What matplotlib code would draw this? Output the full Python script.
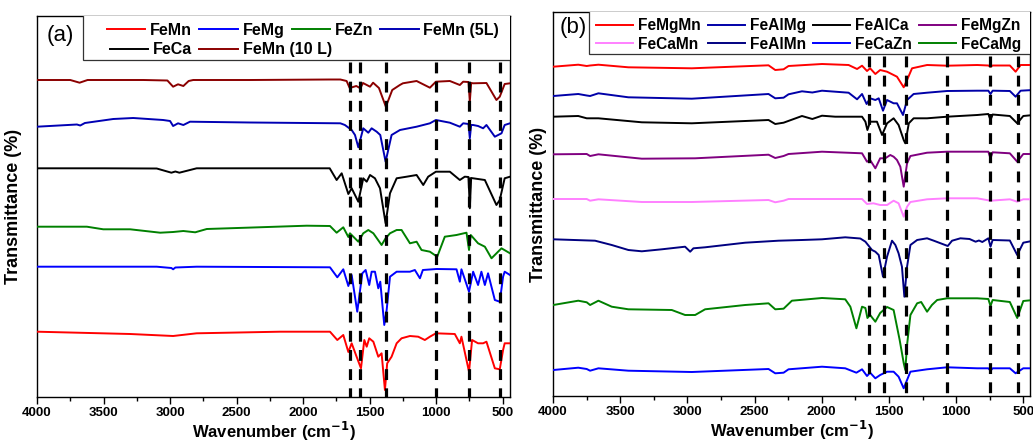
import matplotlib
matplotlib.use("Agg")
import matplotlib.pyplot as plt
from matplotlib.patches import Rectangle

plt.rcParams['font.family'] = ['Liberation Sans', 'DejaVu Sans']

# ---------------- panel (a) ----------------
# spectra: wavenumber (cm-1) and transmittance (arb. units, stacked)
a_FeMn10_wn = [4000, 3750, 3680, 3620, 3200, 3020, 2977, 2940, 2900, 2860, 2826, 2400, 1800, 1720, 1673, 1650,
               1600, 1570, 1550, 1497, 1474, 1430, 1378, 1330, 1273, 1250, 1147, 1047, 1002, 897, 822, 797,
               757, 747, 737, 722, 622, 547, 522, 485, 445]
a_FeMn10_t = [320, 320, 317.3, 320, 320, 319.5, 313.3, 315.7, 314, 319, 320, 320, 320.5, 320.5, 319, 312,
              314, 311.7, 317, 313.3, 317.3, 312, 293.3, 310, 315, 316.7, 319, 312.3, 318.3, 319, 315, 318.3,
              318, 298.3, 317, 316.7, 317, 300, 303.3, 316, 316.7]

a_FeMn5_wn = [4000, 3700, 3675, 3640, 3427, 3277, 3052, 3000, 2977, 2940, 2900, 2850, 2400, 1720, 1686, 1635,
              1610, 1585, 1548, 1510, 1485, 1447, 1420, 1380, 1335, 1272, 1147, 1047, 1002, 897, 822, 797,
              757, 747, 737, 722, 685, 647, 622, 559, 509, 485, 445]
a_FeMn5_t = [273.3, 275.5, 274.5, 277, 281, 282, 280, 279, 274, 276.7, 275, 278.3, 277.5, 276.7, 275, 270,
             265, 252.7, 271.7, 267.3, 271.7, 268.3, 265, 238.3, 265, 270, 273.3, 276.7, 280, 277.3, 273.3, 276.7,
             276, 261.7, 275, 275, 274, 271.7, 275, 263.3, 266.7, 275, 276.7]

a_FeCa_wn = [4000, 3500, 3100, 2990, 2960, 2930, 2800, 1800, 1748, 1710, 1660, 1635, 1585, 1548, 1522, 1497,
             1460, 1422, 1380, 1347, 1297, 1222, 1147, 1097, 1060, 1002, 897, 822, 785, 757, 747, 737, 722,
             634, 547, 522, 485, 445]
a_FeCa_t = [231.7, 231.7, 231.5, 227.3, 228.5, 227.3, 231.7, 231.7, 220, 226.7, 206, 211.7, 198.3, 221.7, 218.3, 225,
            221.7, 211.7, 176.7, 206.7, 221.7, 223.3, 225, 215, 223.3, 228.3, 228.3, 220, 223.3, 223, 191.7, 222, 221.7,
            220, 195, 200, 221.7, 223.3]

a_FeZn_wn = [4000, 3625, 3502, 3300, 3074, 2977, 2900, 2811, 2724, 2424, 1973, 1798, 1748, 1698, 1660, 1648,
             1585, 1548, 1510, 1472, 1410, 1380, 1347, 1297, 1260, 1197, 1147, 1110, 1047, 992, 935, 847, 772,
             753, 740, 685, 634, 584, 509, 445]
a_FeZn_t = [173.3, 173.3, 170.7, 170.7, 167.3, 168, 169, 167.7, 171, 172.3, 174.3, 174, 167.3, 172.7, 163, 166.7,
            158.3, 166.7, 170, 166.7, 155, 161.7, 166.7, 170, 170, 156.7, 158.3, 150, 148.3, 143.3, 163.3, 165, 167.3,
            150, 165, 156.7, 153.3, 141.7, 151.7, 146.7]

a_FeMg_wn = [4000, 3100, 2990, 2977, 2960, 2800, 1798, 1743, 1698, 1660, 1635, 1593, 1555, 1530, 1503, 1485,
             1460, 1435, 1420, 1390, 1372, 1347, 1297, 1197, 1160, 1122, 1100, 997, 847, 822, 810, 753, 722,
             685, 660, 634, 610, 559, 522, 497, 485, 445]
a_FeMg_t = [133.3, 133.3, 132, 130.7, 132.5, 133.3, 132.7, 122.7, 130.7, 114, 125, 88.3, 126.7, 130, 115, 128.3,
            128.3, 111.7, 118.3, 75, 90, 123.3, 128.3, 128.3, 130, 121.7, 130, 131, 130.7, 118.3, 130.7, 108.3, 128.3,
            115, 128.3, 115, 126.7, 100, 98.3, 123.3, 128.3, 125]

a_FeMn_wn = [4000, 3300, 2977, 2800, 2173, 1798, 1743, 1698, 1660, 1635, 1598, 1565, 1540, 1522, 1503, 1472,
             1435, 1410, 1385, 1368, 1335, 1297, 1260, 1197, 1135, 1085, 1047, 1002, 860, 822, 810, 753, 730,
             685, 647, 622, 559, 522, 497, 485, 445]
a_FeMn_t = [68.3, 66, 64, 66.7, 68.3, 68.3, 60, 65, 48, 56.7, 43.3, 31.7, 60, 53.3, 61.7, 58.3,
            43.3, 46.7, 10, 36.7, 43.3, 56.7, 61.7, 64, 63.3, 60, 63.3, 66.7, 66, 56.7, 63.3, 28.3, 60,
            56.7, 56.7, 58.3, 31.7, 30.7, 50, 56.7, 56.7]

a_labels = ['FeMn', 'FeMg', 'FeZn', 'FeMn (5L)', 'FeCa', 'FeMn (10 L)']
a_colors = ['#ff0000', '#0000ff', '#008000', '#0000b4', '#000000', '#8b0000']
a_peaks = [1650, 1570, 1380, 1000, 750, 520]

# ---------------- panel (b) ----------------
b_FeMgMn = [(3998, 333.3), (3812, 335.3), (3749, 334), (3724, 334.5), (3662, 335.3), (3439, 332.7), (2967, 331.7),
            (2396, 334.7), (2346, 330), (2284, 330.7), (2247, 334), (1998, 336), (1800, 335), (1737, 331),
            (1700, 334.3), (1663, 329), (1640, 331.7), (1601, 326), (1565, 330), (1514, 328.3), (1440, 323.3),
            (1390, 312.7), (1365, 320), (1328, 331.7), (1216, 335), (1067, 334.3), (843, 335), (760, 334.5),
            (744, 333.3), (728, 334.5), (600, 334.5), (557, 328.3), (520, 335), (424, 335)]
b_FeAlMg = [(3998, 304), (3812, 306), (3749, 304.5), (3724, 304), (3662, 306.7), (3439, 302.7), (2967, 301.3),
            (2396, 306), (2346, 301.7), (2284, 302.3), (2247, 305.7), (2147, 308.7), (2070, 307.5), (1998, 309.3),
            (1800, 307.3), (1737, 300.7), (1700, 306), (1666, 296), (1640, 301.7), (1601, 300), (1576, 301.7),
            (1544, 289.3), (1514, 300), (1465, 296.7), (1440, 296.7), (1395, 285), (1365, 300), (1316, 306),
            (1216, 307.3), (1067, 309), (843, 309.3), (760, 309.3), (744, 306), (728, 309.3), (600, 309),
            (557, 303.3), (520, 309.3), (424, 310)]
b_FeAlCa = [(3998, 283.3), (3812, 284), (3749, 281.7), (3662, 281.7), (3339, 277.7), (2967, 276.7), (2396, 280),
            (2346, 276), (2284, 277.3), (2147, 284), (2070, 281), (1998, 284.3), (1900, 283.3), (1700, 283.3),
            (1675, 278.3), (1660, 270), (1640, 278.3), (1589, 278.3), (1551, 265), (1514, 276.7), (1465, 281.7),
            (1428, 275), (1390, 260), (1378, 256.7), (1352, 276.7), (1316, 281.7), (1216, 281.7), (1067, 283.3),
            (843, 285), (760, 286), (744, 280), (728, 285.5), (600, 284), (545, 276.7), (500, 284), (424, 285)]
b_FeMgZn = [(3998, 245.7), (3749, 246), (3724, 244), (3662, 245.7), (3339, 241.3), (2942, 241.7), (2396, 245.3),
            (2346, 242), (2284, 244), (2247, 246), (1998, 248.3), (1700, 246.7), (1663, 238.3), (1640, 240),
            (1601, 231.7), (1565, 241.7), (1527, 241.7), (1490, 245), (1465, 243.3), (1440, 240), (1415, 233.3),
            (1390, 213.3), (1365, 236.7), (1340, 244), (1216, 247.3), (1067, 248.3), (843, 248.3), (760, 248.3),
            (744, 241.7), (728, 247.7), (600, 246.7), (545, 238.3), (500, 246), (424, 246)]
b_FeCaMn = [(3998, 201), (3749, 201), (3724, 199.3), (3662, 200.7), (3339, 198), (2967, 198), (2396, 200),
            (2346, 197.7), (2284, 199.3), (2247, 201), (1700, 201), (1663, 196), (1615, 196.7), (1565, 195),
            (1514, 195), (1465, 199.3), (1428, 196.7), (1390, 183.3), (1365, 193.3), (1340, 198), (1216, 200.7),
            (1067, 201.7), (843, 201.7), (744, 199.3), (600, 200.7), (545, 198.3), (500, 200.7), (424, 200.7)]
b_FeAlMn = [(3998, 160.7), (3687, 159.3), (3563, 155), (3439, 150), (3339, 148.7), (3190, 150.7), (3017, 153.3),
            (2979, 148.3), (2955, 151.7), (2868, 152.7), (2570, 157.3), (2322, 159.3), (2147, 160), (1998, 160.7),
            (1825, 162.7), (1713, 161.5), (1675, 158.3), (1626, 150), (1601, 148.3), (1576, 145), (1544, 123.3),
            (1514, 143.3), (1477, 159.3), (1452, 155), (1428, 146.7), (1403, 133.3), (1385, 103.3), (1365, 133.3),
            (1340, 155), (1290, 160), (1216, 161.7), (1166, 159.3), (1062, 154), (1030, 159.3), (968, 161.7),
            (900, 161), (855, 158.3), (830, 159.5), (805, 158), (760, 161.7), (744, 153.3), (728, 160),
            (600, 159.5), (545, 145), (500, 157.3), (424, 159.3)]
b_FeCaZn = [(3998, 30), (3812, 32.3), (3749, 31), (3724, 29.3), (3662, 31.7), (3439, 29.3), (2967, 28),
            (2396, 31), (2346, 26.7), (2284, 27.3), (2247, 30.7), (1998, 33.3), (1825, 31.7), (1742, 27.3),
            (1700, 30.7), (1663, 24), (1640, 27.3), (1601, 21.7), (1565, 25), (1514, 28.3), (1465, 28.3),
            (1428, 23.3), (1390, 11.7), (1365, 20), (1340, 28.3), (1216, 30.7), (1067, 32.7), (843, 31.7),
            (760, 31.7), (744, 29.3), (728, 31.7), (600, 31.7), (557, 26.7), (500, 31.7), (424, 31.7)]
b_FeCaMg = [(3998, 95), (3812, 99.3), (3749, 97.7), (3724, 95), (3662, 99.3), (3563, 93.3), (3439, 90.7),
            (3116, 90), (3017, 85), (2942, 85), (2868, 90.7), (2570, 95), (2396, 96.7), (2346, 90.7),
            (2284, 91.3), (2222, 99.3), (1998, 102), (1825, 100.7), (1787, 93.3), (1742, 71.7), (1700, 93.3),
            (1675, 92), (1660, 82), (1640, 85), (1601, 78.3), (1565, 87), (1514, 93), (1465, 90), (1420, 60),
            (1390, 37), (1378, 30), (1365, 55), (1340, 85), (1290, 96.7), (1260, 98), (1216, 88.3), (1180, 95),
            (1141, 100), (1067, 101.7), (843, 101.7), (760, 101), (744, 94), (728, 100), (600, 98),
            (545, 82), (500, 99), (424, 100)]

b_series = [b_FeMgMn, b_FeAlMg, b_FeAlCa, b_FeMgZn, b_FeCaMn, b_FeAlMn, b_FeCaZn, b_FeCaMg]
b_labels = ['FeMgMn', 'FeAlMg', 'FeAlCa', 'FeMgZn', 'FeCaMn', 'FeAlMn', 'FeCaZn', 'FeCaMg']
b_colors = ['#ff0000', '#0000a8', '#000000', '#800080', '#ff80ff', '#000080', '#0000ff', '#008000']
b_peaks = [1650, 1540, 1375, 1067, 744, 541]

W, H = 1033, 444
fig = plt.figure(figsize=(W / 100, H / 100), dpi=100)


def px_axes(l, t, r, b):
    return fig.add_axes([l / W, 1 - b / H, (r - l) / W, (b - t) / H])


def style(ax, xmax_right):
    ax.set_xlim(4000, xmax_right)
    ax.set_xticks([4000, 3500, 3000, 2500, 2000, 1500, 1000, 500])
    ax.set_xticks([3750, 3250, 2750, 2250, 1750, 1250, 750], minor=True)
    ax.set_yticks([])
    ax.tick_params(axis='x', which='major', direction='out', length=5, width=1, pad=2, labelsize=9.5)
    ax.tick_params(axis='x', which='minor', direction='out', length=3, width=1)
    for lb in ax.get_xticklabels():
        lb.set_fontweight('bold')
    for s in ax.spines.values():
        s.set_linewidth(1.0)
    ax.set_xlabel('Wavenumber (cm$^{\\mathbf{-1}}$)', fontsize=12, fontweight='bold', labelpad=1)
    ax.set_ylabel('Transmittance (%)', fontsize=13, fontweight='bold')


def peaks(ax, wns, top, bottom):
    for w in wns:
        ax.plot([w, w], [top, bottom], color='black', lw=2.3, dashes=(3.4, 2.6), zorder=5)


def legend_box(ax, x0, y0):
    ax.add_patch(Rectangle((x0, y0), 1.5, 1.5, transform=ax.transAxes, facecolor='white',
                           edgecolor='#333333', lw=0.9, zorder=6, clip_on=True))


def leg_kw(size):
    return dict(frameon=False, borderpad=0, borderaxespad=0, handlelength=2.4, handletextpad=0.3,
                columnspacing=0.45, prop={'weight': 'bold', 'size': size})


# panel (a)
axA = px_axes(37, 16, 510, 397)
a_data = [(a_FeMn_wn, a_FeMn_t), (a_FeMg_wn, a_FeMg_t), (a_FeZn_wn, a_FeZn_t),
          (a_FeMn5_wn, a_FeMn5_t), (a_FeCa_wn, a_FeCa_t), (a_FeMn10_wn, a_FeMn10_t)]
hA = []
for (wn, t), lab, c in zip(a_data, a_labels, a_colors):
    ln, = axA.plot(wn, t, color=c, lw=1.4, label=lab, zorder=3)
    hA.append(ln)
axA.set_ylim(3, 384)
peaks(axA, a_peaks, 338, 3)
style(axA, 445)
axA.yaxis.set_label_coords(-0.032, 0.5)
legend_box(axA, 0.097, 0.885)
lg1 = axA.legend(hA[:4], a_labels[:4], loc='center left', bbox_to_anchor=(0.148, 0.963), ncol=4,
                 **leg_kw(11.5))
lg1.set_zorder(7)
axA.add_artist(lg1)
lg2 = axA.legend(hA[4:], a_labels[4:], loc='center left', bbox_to_anchor=(0.154, 0.911), ncol=2,
                 **leg_kw(11.5))
lg2.set_zorder(7)
axA.text(0.05, 0.95, '(a)', transform=axA.transAxes, fontsize=16, ha='center', va='center', zorder=8)

# panel (b)
axB = px_axes(553, 12, 1030, 396)
hB = []
for pts, lab, c in zip(b_series, b_labels, b_colors):
    wn = [p[0] for p in pts]
    t = [p[1] for p in pts]
    ln, = axB.plot(wn, t, color=c, lw=1.4, label=lab, zorder=3)
    hB.append(ln)
axB.set_ylim(4, 388)
peaks(axB, b_peaks, 344, 4)
style(axB, 450)
axB.yaxis.set_label_coords(-0.012, 0.5)
legend_box(axB, (589 - 553) / 477, (396 - 54) / 384)
order = [0, 4, 1, 5, 2, 6, 3, 7]
lgb = axB.legend([hB[i] for i in order], [b_labels[i] for i in order], loc='center left',
                 bbox_to_anchor=((596 - 553) / 477, (396 - 35) / 384), ncol=4,
                 labelspacing=0.2, **leg_kw(11.2))
lgb.set_zorder(7)
axB.text(0.042, 0.96, '(b)', transform=axB.transAxes, fontsize=16, ha='center', va='center', zorder=8)

fig.savefig('out.png', dpi=100)
